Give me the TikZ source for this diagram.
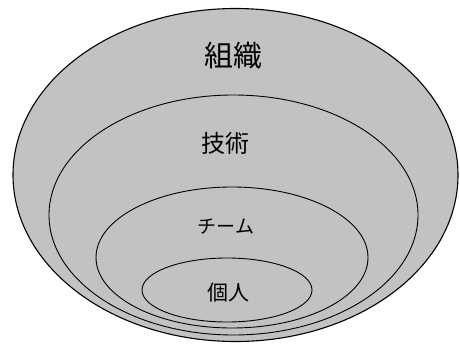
\documentclass[tikz,border=0pt]{standalone}
\usepackage{fontspec}
\newfontfamily\jpfont{Noto Sans CJK JP}
\usetikzlibrary{shapes.geometric}
\definecolor{ringfill}{gray}{0.76}
\tikzset{
  ring/.style={ellipse, draw=black, fill=ringfill, line width=0.9pt, inner sep=0pt, outer sep=0pt},
  lab/.style={font=\jpfont, text=black, inner sep=0pt}
}
\begin{document}
\begin{tikzpicture}[x=1pt,y=-1pt]
\useasboundingbox (0,0) rectangle (460,345);
\node[ring, line width=1.1pt, minimum width=445pt, minimum height=333pt] (org) at (235.5,175) {};
\node[ring, minimum width=369pt, minimum height=240pt] (tech) at (233.5,215) {};
\node[ring, minimum width=272pt, minimum height=141pt] (team) at (232,257.5) {};
\node[ring, minimum width=170pt, minimum height=64pt] (indiv) at (227,290) {};
\node[lab, font=\jpfont\fontsize{29}{29}\selectfont] (orgl) at (233,56) {組織};
\node[lab, font=\jpfont\fontsize{24}{24}\selectfont] (techl) at (225,143) {技術};
\node[lab, font=\jpfont\fontsize{19}{19}\selectfont] (teaml) at (226,227) {チーム};
\node[lab, font=\jpfont\fontsize{21}{21}\selectfont] (indivl) at (228,293) {個人};
\end{tikzpicture}
\end{document}
